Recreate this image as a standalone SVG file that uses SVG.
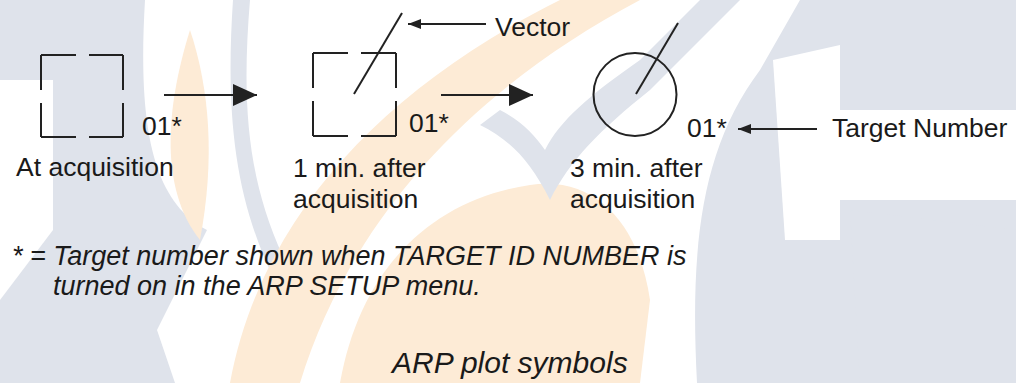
<svg xmlns="http://www.w3.org/2000/svg" width="1016" height="383" viewBox="0 0 1016 383">
<defs>
<style>
.t{font-family:"Liberation Sans",Arial,sans-serif;font-size:26.5px;fill:#1a1a1a}
.i{font-style:italic;font-size:27px}
.sym{fill:none;stroke:#222;stroke-width:2}
.ln{fill:none;stroke:#222;stroke-width:2}
.wg{fill:#dfe3eb}
.wo{fill:#fdebd6}
</style>
<marker id="big" viewBox="0 0 24 22" refX="24" refY="11" markerWidth="24" markerHeight="22" markerUnits="userSpaceOnUse" orient="auto"><path d="M0,0 L24,11 L0,22 Z" fill="#222"/></marker>
<marker id="small" viewBox="0 0 13 10" refX="13" refY="5" markerWidth="13" markerHeight="10" markerUnits="userSpaceOnUse" orient="auto"><path d="M0,0 L13,5 L0,10 Z" fill="#222"/></marker>
</defs>
<rect width="1016" height="383" fill="#fff"/>
<g id="watermark">
<path class="wg" d="M0,0 H145 C138,120 150,200 207,230 L157,330 L175,383 H0 Z"/>
<path d="M0,80 H53 V230 L0,300 Z" fill="#fff"/>
<path class="wo" d="M190,30 C165,110 160,190 200,240 C215,160 210,90 190,30 Z"/>
<path class="wg" d="M233,0 H250 C240,120 250,200 300,290 L285,300 C235,210 225,120 233,0 Z"/>
<path class="wo" d="M230,383 C260,220 380,90 560,0 H640 C470,90 350,220 300,383 Z"/>
<path class="wo" d="M340,383 C360,270 430,200 530,185 C600,175 640,230 650,300 L640,383 Z"/>
<path class="wg" d="M500,110 C520,120 535,135 545,150 C560,120 590,95 640,60 L700,0 H740 L650,90 C600,130 570,160 550,200 C530,160 510,140 480,125 Z"/>
<path class="wg" d="M697,383 C690,250 700,150 760,70 L800,0 H1016 V383 Z"/>
<path d="M773,60 L840,45 V240 L785,240 Z" fill="#fff"/>
<path d="M785,110 H1016 V200 H785 Z" fill="#fff"/>
<path class="wg" d="M850,210 L1016,230 V383 H860 Z"/>
</g>
<g id="node-acquisition">
<path class="sym" d="M41,55 H76 M89,55 H123 M123,55 V90 M123,103 V137 M41,137 H76 M89,137 H123 M41,55 V90 M41,103 V137"/>
<text class="t" x="142" y="135">01*</text>
<text class="t" x="16" y="176">At acquisition</text>
</g>
<g id="node-1min">
<path class="sym" d="M313,53 H348 M361,53 H396 M396,53 V88 M396,101 V136 M313,136 H348 M361,136 H396 M313,53 V88 M313,101 V136"/>
<line class="ln" x1="354" y1="94" x2="402" y2="13"/>
<text class="t" x="409" y="132">01*</text>
<text class="t" x="293" y="177">1 min. after</text>
<text class="t" x="293" y="208">acquisition</text>
</g>
<g id="node-3min">
<circle class="sym" cx="635" cy="94.5" r="41.5"/>
<line class="ln" x1="636" y1="94" x2="678" y2="23"/>
<text class="t" x="687" y="137">01*</text>
<text class="t" x="570" y="177">3 min. after</text>
<text class="t" x="570" y="208">acquisition</text>
</g>
<g id="label-vector">
<text class="t" x="495" y="36">Vector</text>
</g>
<g id="label-target-number">
<text class="t" x="832" y="137">Target Number</text>
</g>
<g id="connectors">
<line class="ln" x1="164" y1="95" x2="257" y2="95" marker-end="url(#big)"/>
<line class="ln" x1="441" y1="95" x2="533" y2="95" marker-end="url(#big)"/>
<line class="ln" x1="486" y1="24" x2="408" y2="24" marker-end="url(#small)"/>
<line class="ln" x1="817" y1="129" x2="738" y2="129" marker-end="url(#small)"/>
</g>
<g id="notes">
<text class="t i" x="12" y="265">* = Target number shown when TARGET ID NUMBER is</text>
<text class="t i" x="53" y="295">turned on in the ARP SETUP menu.</text>
<text class="t i" x="392" y="373" style="font-size:30px">ARP plot symbols</text>
</g>
</svg>
